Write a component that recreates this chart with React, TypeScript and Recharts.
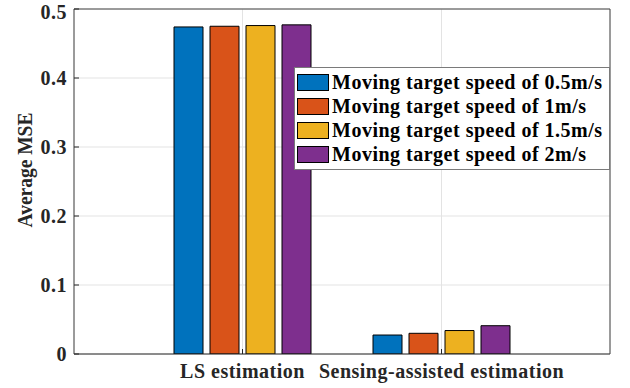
import React from "react";
import {
  Bar,
  BarChart,
  CartesianGrid,
  Legend,
  XAxis,
  YAxis,
} from "recharts";

const CATEGORIES = ["LS estimation", "Sensing-assisted estimation"];

const SPEED_05 = [0.474, 0.0275];
const SPEED_1 = [0.475, 0.03];
const SPEED_15 = [0.476, 0.034];
const SPEED_2 = [0.477, 0.041];

const SERIES_NAMES = [
  "Moving target speed of 0.5m/s",
  "Moving target speed of 1m/s",
  "Moving target speed of 1.5m/s",
  "Moving target speed of 2m/s",
];
const SERIES_COLORS = ["#0072BD", "#D95319", "#EDB120", "#7E2F8E"];

const Y_TICKS = [0, 0.1, 0.2, 0.3, 0.4, 0.5];
const Y_TITLE = "Average MSE";

const FONT = '"Liberation Serif", "Times New Roman", serif';
const INK = "#262626";

const data = CATEGORIES.map((category, i) => ({
  category,
  s05: SPEED_05[i],
  s1: SPEED_1[i],
  s15: SPEED_15[i],
  s2: SPEED_2[i],
}));

const SERIES_KEYS = ["s05", "s1", "s15", "s2"];

const tickStyle = { fontSize: 20, fontWeight: 700, fill: INK, fontFamily: FONT };

// rotated y title; ignores the props recharts passes in
function YTitle() {
  return (
    <g transform="translate(32,170) rotate(-90) scale(1,1.1)">
      <text
        x={0}
        y={0}
        textAnchor="middle"
        style={{
          fontFamily: FONT,
          fontSize: 19.5,
          fontWeight: 700,
          fill: INK,
          letterSpacing: 0,
        }}
      >
        {Y_TITLE}
      </text>
    </g>
  );
}

// boxed legend, kept in series order (recharts sorts by name otherwise)
function BoxLegend({ payload }: any) {
  const items = [...(payload || [])].sort(
    (a: any, b: any) => SERIES_NAMES.indexOf(a.value) - SERIES_NAMES.indexOf(b.value),
  );
  return (
    <div
      style={{
        border: "1px solid #7a7a7a",
        background: "#fff",
        padding: "2px 0 3px 2px",
        fontFamily: FONT,
      }}
    >
      {items.map((entry: any) => (
        <div
          key={entry.value}
          style={{ display: "flex", alignItems: "center", height: 24 }}
        >
          <span
            style={{
              width: 32,
              height: 17,
              boxSizing: "border-box",
              border: "1px solid #000",
              background: entry.color,
              marginRight: 3,
              flex: "none",
            }}
          />
          <span
            style={{
              fontSize: 20,
              fontWeight: 700,
              color: "#000",
              letterSpacing: "0.5px",
              whiteSpace: "nowrap",
              lineHeight: "24px",
            }}
          >
            {entry.value}
          </span>
        </div>
      ))}
    </div>
  );
}

export default function App() {
  return (
    <div
      style={{
        position: "fixed",
        left: 0,
        top: 0,
        width: 630,
        height: 388,
        background: "#fff",
        fontFamily: FONT,
        letterSpacing: "0.5px",
      }}
    >
      <BarChart
        width={630}
        height={388}
        data={data}
        margin={{ top: 8, right: 19, bottom: 4, left: 14 }}
        barSize={29}
        barGap={7}
      >
        <CartesianGrid stroke="#e3e3e3" />
        <XAxis
          dataKey="category"
          interval={0}
          height={30}
          padding={{ left: 69, right: 69 }}
          tickSize={-5}
          tickMargin={15}
          axisLine={{ stroke: INK }}
          tickLine={{ stroke: INK }}
          tick={tickStyle}
        />
        <XAxis
          xAxisId="top"
          dataKey="category"
          orientation="top"
          height={1}
          padding={{ left: 69, right: 69 }}
          tickSize={-5}
          axisLine={{ stroke: "#444" }}
          tickLine={{ stroke: INK }}
          tick={false}
        />
        <YAxis
          width={60}
          domain={[0, 0.5]}
          ticks={Y_TICKS}
          allowDataOverflow
          tickSize={-5}
          tickMargin={12}
          axisLine={{ stroke: "#444" }}
          tickLine={{ stroke: INK }}
          tick={tickStyle}
          label={<YTitle />}
        />
        <YAxis
          yAxisId="right"
          orientation="right"
          width={1}
          domain={[0, 0.5]}
          ticks={Y_TICKS}
          allowDataOverflow
          tickSize={-5}
          axisLine={{ stroke: "#444" }}
          tickLine={{ stroke: INK }}
          tick={false}
        />
        <Legend
          layout="horizontal"
          verticalAlign="middle"
          align="center"
          content={<BoxLegend />}
          wrapperStyle={{ position: "absolute", left: 294, top: 67, width: 316 }}
        />
        {SERIES_KEYS.map((key, i) => (
          <Bar
            key={key}
            dataKey={key}
            name={SERIES_NAMES[i]}
            fill={SERIES_COLORS[i]}
            stroke="#000"
            strokeWidth={1}
            isAnimationActive={false}
          />
        ))}
      </BarChart>
    </div>
  );
}
